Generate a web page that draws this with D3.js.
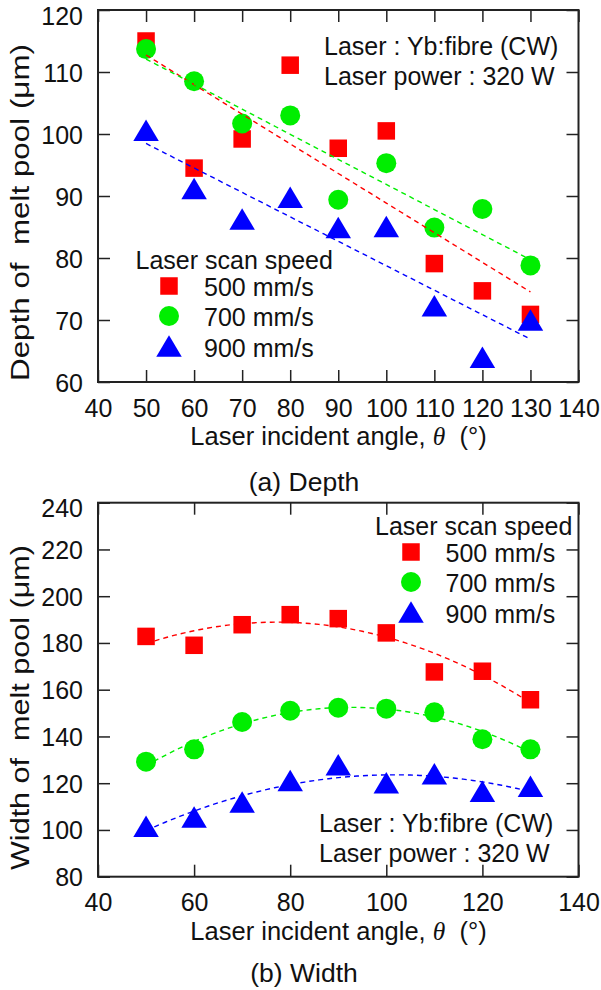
<!DOCTYPE html>
<html><head><meta charset="utf-8">
<script src="https://cdn.jsdelivr.net/npm/d3@7"></script>
<style>
html,body{margin:0;padding:0;background:#fff;}
svg text{font-family:"Liberation Sans",Arial,sans-serif;fill:#111;white-space:pre;}
</style></head>
<body><svg id="chart" width="601" height="990"></svg>
<script>
// ---- data ----
const angles = [50, 60, 70, 80, 90, 100, 110, 120, 130];
const speeds = ["500 mm/s", "700 mm/s", "900 mm/s"];
const depth500 = [115.0, 94.5, 99.2, 111.1, 97.7, 100.5, 79.1, 74.7, 70.9];
const depth700 = [113.7, 108.5, 101.7, 103.0, 89.4, 95.3, 84.9, 87.9, 78.8];
const depth900 = [100.6, 91.2, 86.3, 89.8, 84.9, 85.1, 72.3, 64.0, 70.0];
const width500 = [182.8, 179.0, 187.8, 192.1, 190.4, 184.3, 167.6, 167.9, 155.7];
const width700 = [129.2, 134.5, 146.2, 151.0, 152.3, 151.9, 150.3, 138.8, 134.5];
const width900 = [101.6, 105.5, 112.0, 121.2, 127.9, 120.2, 124.0, 116.6, 118.7];
const xTicksTop = [40, 50, 60, 70, 80, 90, 100, 110, 120, 130, 140];
const xTicksBottom = [40, 60, 80, 100, 120, 140];
const yTicksDepth = [60, 70, 80, 90, 100, 110, 120];
const yTicksWidth = [80, 100, 120, 140, 160, 180, 200, 220, 240];
const colors = ["#ff0000", "#00ee00", "#0000ff"];
const shapes = ["square", "circle", "triangle"];

// ---- fits ----
function linFit(xs, ys) {
  const mx = d3.mean(xs), my = d3.mean(ys);
  let sxy = 0, sxx = 0;
  xs.forEach((x, i) => { sxy += (x - mx) * (ys[i] - my); sxx += (x - mx) * (x - mx); });
  const b = sxy / sxx;
  return x => my + b * (x - mx);
}
function quadFit(xs, ys) {
  const mx = d3.mean(xs);
  const S = [0,0,0,0,0], T = [0,0,0];
  xs.forEach((x0, i) => { const t = x0 - mx; for (let k = 0; k < 5; k++) S[k] += Math.pow(t, k); for (let k = 0; k < 3; k++) T[k] += ys[i] * Math.pow(t, k); });
  const M = [[S[0],S[1],S[2],T[0]],[S[1],S[2],S[3],T[1]],[S[2],S[3],S[4],T[2]]];
  for (let c = 0; c < 3; c++) { for (let r = c + 1; r < 3; r++) { const f = M[r][c] / M[c][c]; for (let k = c; k < 4; k++) M[r][k] -= f * M[c][k]; } }
  const co = [0,0,0];
  for (let r = 2; r >= 0; r--) { let s = M[r][3]; for (let k = r + 1; k < 3; k++) s -= M[r][k] * co[k]; co[r] = s / M[r][r]; }
  return x => { const t = x - mx; return co[0] + co[1] * t + co[2] * t * t; };
}

const svg = d3.select("#chart");
const x = d3.scaleLinear().domain([40, 140]).range([98, 578.5]);

function marker(g, shape, cx, cy, color) {
  if (shape === "square") g.append("rect").attr("x", cx - 8.75).attr("y", cy - 8.75).attr("width", 17.5).attr("height", 17.5).attr("fill", color);
  else if (shape === "circle") g.append("circle").attr("cx", cx).attr("cy", cy).attr("r", 10).attr("fill", color);
  else g.append("path").attr("d", `M${cx},${cy - 10.75}L${cx + 12.75},${cy + 10.75}L${cx - 12.75},${cy + 10.75}Z`).attr("fill", color);
}

function panel(opt) {
  const y = d3.scaleLinear().domain(opt.yDomain).range([opt.bottom, opt.top]);
  const g = svg.append("g");
  const T = 12;
  const ax = g.append("g").attr("transform", `translate(0,${opt.bottom})`)
    .call(d3.axisBottom(x).tickValues(opt.xTicks).tickSize(-T).tickFormat(d3.format("d")));
  ax.selectAll("text").attr("y", 0).attr("dy", 34.5).attr("font-size", 25);
  g.append("g").attr("transform", `translate(0,${opt.top})`)
    .call(d3.axisTop(x).tickValues(opt.xTicks).tickSize(-T).tickFormat(""));
  const ay = g.append("g").attr("transform", `translate(${x.range()[0]},0)`)
    .call(d3.axisLeft(y).tickValues(opt.yTicks).tickSize(-T).tickFormat(d3.format("d")));
  ay.selectAll("text").attr("x", -15).attr("dy", "0.36em").attr("font-size", 25)
    .attr("y", d => d === opt.yDomain[1] ? 5 : 0);
  g.append("g").attr("transform", `translate(${x.range()[1]},0)`)
    .call(d3.axisRight(y).tickValues(opt.yTicks).tickSize(-T).tickFormat(""));
  g.selectAll(".domain").remove();
  g.selectAll(".tick line").attr("stroke", "#222").attr("stroke-width", 1.5);
  g.selectAll(".tick text").attr("fill", "#111").attr("font-family", '"Liberation Sans",Arial,sans-serif');
  g.append("rect").attr("x", x.range()[0]).attr("y", opt.top).attr("width", x.range()[1] - x.range()[0]).attr("height", opt.bottom - opt.top)
    .attr("fill", "none").attr("stroke", "#222").attr("stroke-width", 2);

  const series = opt.series;
  const lineGen = d3.line().x(d => x(d[0])).y(d => y(d[1]));
  const drawLines = () => series.forEach((s, i) => {
    const f = opt.fit(angles, s);
    const pts = d3.range(50, 130.01, 1).map(v => [v, f(v)]);
    g.append("path").attr("d", lineGen(pts)).attr("fill", "none").attr("stroke", colors[i])
      .attr("stroke-width", 1.4).attr("stroke-dasharray", "5,4");
  });
  const drawMarkers = () => series.forEach((s, i) => {
    angles.forEach((a, j) => marker(g, shapes[i], x(a), y(s[j]), colors[i]));
  });
  if (opt.linesOnTop) { drawMarkers(); drawLines(); } else { drawLines(); drawMarkers(); }

  const xt = g.append("text").attr("x", 338.5).attr("y", opt.bottom + 63).attr("text-anchor", "middle").attr("font-size", 25.5);
  xt.append("tspan").text("Laser incident angle, ");
  xt.append("tspan").attr("font-family", '"Liberation Serif","DejaVu Serif",serif').attr("font-style", "italic").text("θ");
  xt.append("tspan").text("\u00a0 (°)");
  g.append("text").attr("transform", `translate(29.3,${opt.yTitleCenter}) rotate(-90)`).attr("text-anchor", "middle")
    .attr("font-size", 25.5).attr("textLength", opt.yTitleLen).attr("lengthAdjust", "spacingAndGlyphs").text(opt.yTitle);
  g.append("text").attr("x", 304).attr("y", opt.captionY).attr("text-anchor", "middle").attr("font-size", 26.5).text(opt.caption);

  g.append("text").attr("x", opt.annX).attr("y", opt.annY).attr("font-size", 25).text("Laser : Yb:fibre (CW)");
  g.append("text").attr("x", opt.annX).attr("y", opt.annY + 30).attr("font-size", 25).text("Laser power : 320 W");
  const L = opt.legend;
  g.append("text").attr("x", L.x).attr("y", L.y).attr("font-size", 25).text("Laser scan speed");
  speeds.forEach((s, i) => {
    marker(g, shapes[i], L.mx, L.y + 17 + i * 30, colors[i]);
    g.append("text").attr("x", L.tx).attr("y", L.y + 26.5 + i * 30.5).attr("font-size", 25).text(s);
  });
}

panel({
  top: 10, bottom: 382, yDomain: [60, 120], xTicks: xTicksTop, yTicks: yTicksDepth,
  series: [depth500, depth700, depth900], fit: linFit, linesOnTop: true,
  yTitle: "Depth of\u00a0 melt pool (μm)", yTitleCenter: 212.5, yTitleLen: 337,
  caption: "(a) Depth", captionY: 490.5,
  annX: 324, annY: 55,
  legend: { x: 135.5, y: 269, mx: 169, tx: 204 }
});
panel({
  top: 502.7, bottom: 876.7, yDomain: [80, 240], xTicks: xTicksBottom, yTicks: yTicksWidth,
  series: [width500, width700, width900], fit: quadFit, linesOnTop: false,
  yTitle: "Width of\u00a0 melt pool (μm)", yTitleCenter: 707.5, yTitleLen: 325,
  caption: "(b) Width", captionY: 981.5,
  annX: 319, annY: 832,
  legend: { x: 375, y: 535, mx: 411, tx: 445.5 }
});
</script></body></html>
